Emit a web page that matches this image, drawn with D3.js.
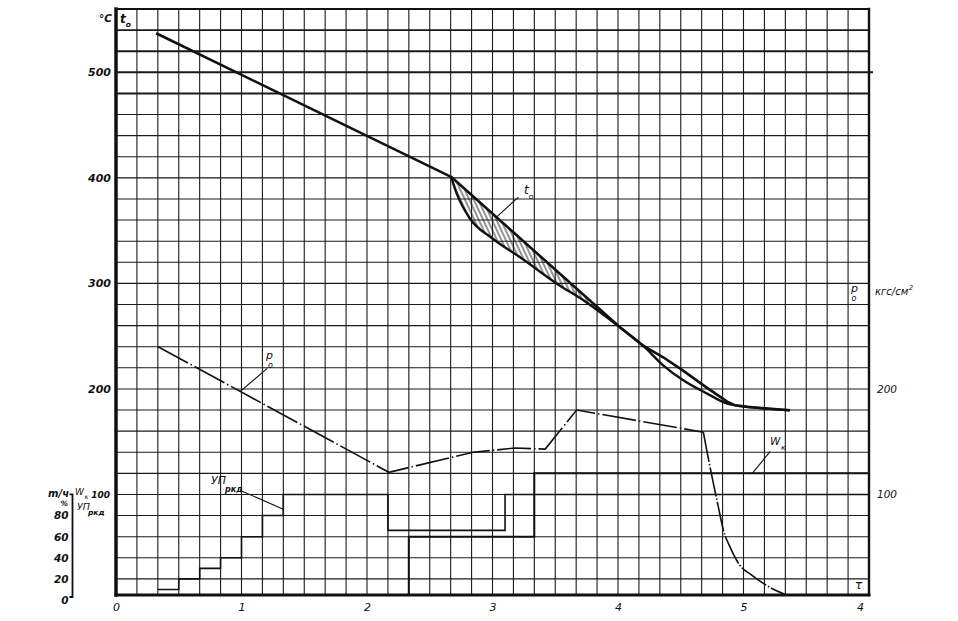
<!DOCTYPE html>
<html><head><meta charset="utf-8">
<script src="https://cdn.jsdelivr.net/npm/d3@7"></script>
<style>
html,body{margin:0;padding:0;background:#fff;}
svg{display:block;}
text{font-family:"DejaVu Sans","Liberation Sans",sans-serif;font-style:italic;fill:#111;}
</style></head><body>
<svg id="c" width="958" height="621"></svg>
<script>
// ---------- data ----------
const xTickValues = [0, 1, 2, 3, 4, 5, 6];
const xTickLabels = ["0", "1", "2", "3", "4", "5", "4"];
const tempTicks = [200, 300, 400, 500];
const pressureTicks = [100, 200];
const wkTicks = [100];
const flowTicks = [0, 20, 40, 60, 80];

// t_o, upper (straight) curve
const toUpperX = [0.32, 2.67, 4.02, 4.20, 4.36, 4.51, 4.71, 4.87, 4.93, 5.03, 5.37];
const toUpperY = [537, 401, 258, 241, 230, 218, 201, 188, 184.6, 183, 179.8];
// t_o, lower (bowed) curve
const toLowerX = [2.67, 2.715, 2.82, 3.00, 3.22, 3.51, 3.75, 4.02, 4.20, 4.36, 4.52, 4.71, 4.87, 4.93, 5.03, 5.37];
const toLowerY = [401, 385, 361.5, 342.5, 324.7, 300, 282, 258, 241, 222.4, 208.2, 195.6, 186.2, 184.6, 183, 179.8];
// p_o (kgs/cm2)
const poX = [0.335, 2.175, 2.845, 3.18, 3.42, 3.67, 4.68];
const poY = [240, 121, 140, 144, 143, 180, 159];
const poDropX = [4.68, 4.707, 4.76, 4.80, 4.84, 4.89, 4.97, 5.06, 5.155, 5.25, 5.35];
const poDropY = [159, 142, 110.5, 88, 66, 51, 33, 24, 16, 9.5, 4.5];
// УП ркд (%)
const upX = [0.333, 0.5, 0.667, 0.833, 1.0, 1.167, 1.333, 2.167, 3.1, 6.0];
const upY = [10, 20, 30, 40, 60, 80, 100, 66, 100, 100];
// W_k (t/h)
const wkX = [2.333, 2.333, 3.333, 6.0];
const wkY = [0, 60, 120, 120];

// ---------- drawing ----------
const svg = d3.select("#c");
const x = d3.scaleLinear().domain([0, 6]).range([116, 869]);
const y = d3.scaleLinear().domain([0, 560]).range([600, 9]);
const frameBottom = 595;
const ink = "#111";

const defs = svg.append("defs");
defs.append("clipPath").attr("id", "plot").append("rect")
  .attr("x", x(0)).attr("y", y(560)).attr("width", x(6) - x(0)).attr("height", frameBottom - y(560));
const pat = defs.append("pattern").attr("id", "hatch").attr("patternUnits", "userSpaceOnUse")
  .attr("width", 4).attr("height", 10).attr("patternTransform", "rotate(-25)");
pat.append("line").attr("x1", 1).attr("y1", 0).attr("x2", 1).attr("y2", 10)
  .attr("stroke", ink).attr("stroke-width", 0.9);

// grid
const grid = svg.append("g");
const vGrid = d3.range(1, 36).map(k => k / 6);
grid.selectAll("line.v").data(vGrid).join("line")
  .attr("x1", d => x(d)).attr("x2", d => x(d))
  .attr("y1", y(560)).attr("y2", frameBottom)
  .attr("stroke", "#1a1a1a").attr("stroke-width", 1.1);
const hGrid = d3.range(20, 560, 20);
const bold = new Set([480, 500, 520, 540]);
grid.selectAll("line.h").data(hGrid).join("line")
  .attr("x1", x(0)).attr("x2", d => d === 500 ? x(6) + 4 : x(6))
  .attr("y1", d => y(d)).attr("y2", d => y(d))
  .attr("stroke", "#1a1a1a").attr("stroke-width", d => bold.has(d) ? 1.9 : 1.1);

// frame
const fr = svg.append("g").attr("stroke", ink).attr("stroke-linecap", "square");
fr.append("line").attr("x1", x(0)).attr("x2", x(0)).attr("y1", y(560)).attr("y2", frameBottom).attr("stroke-width", 3.5);
fr.append("line").attr("x1", x(0)).attr("x2", x(6)).attr("y1", frameBottom).attr("y2", frameBottom).attr("stroke-width", 3);
fr.append("line").attr("x1", x(6)).attr("x2", x(6)).attr("y1", y(560)).attr("y2", frameBottom).attr("stroke-width", 2.4);
fr.append("line").attr("x1", x(0)).attr("x2", x(6)).attr("y1", y(560)).attr("y2", y(560)).attr("stroke-width", 2);

// data layer
const data = svg.append("g").attr("clip-path", "url(#plot)");
const zip = (xs, ys) => xs.map((v, i) => [v, ys[i]]);
const interp = (xs, ys, v) => {
  for (let i = 0; i < xs.length - 1; i++) {
    if (v >= xs[i] && v <= xs[i + 1]) {
      const t = (v - xs[i]) / (xs[i + 1] - xs[i]);
      return ys[i] + t * (ys[i + 1] - ys[i]);
    }
  }
  return ys[ys.length - 1];
};

// hatch between t_o curves
const hatchPts = toLowerX.map((v, i) => ({ x: v, lo: toLowerY[i], hi: interp(toUpperX, toUpperY, v) }))
  .filter(d => d.x <= 4.02 + 1e-9);
data.append("path").datum(hatchPts)
  .attr("d", d3.area().x(d => x(d.x)).y0(d => y(d.lo)).y1(d => y(d.hi)).curve(d3.curveMonotoneX))
  .attr("fill", "url(#hatch)");

const lineLin = d3.line().x(d => x(d[0])).y(d => y(d[1]));
const lineMono = d3.line().x(d => x(d[0])).y(d => y(d[1])).curve(d3.curveMonotoneX);
const lineStep = d3.line().x(d => x(d[0])).y(d => y(d[1])).curve(d3.curveStepAfter);

data.append("path").datum(zip(toUpperX, toUpperY)).attr("d", lineLin)
  .attr("fill", "none").attr("stroke", ink).attr("stroke-width", 2.6).attr("stroke-linejoin", "round");
data.append("path").datum(zip(toLowerX, toLowerY)).attr("d", lineMono)
  .attr("fill", "none").attr("stroke", ink).attr("stroke-width", 2.4).attr("stroke-linejoin", "round");

data.append("path").datum(zip(poX, poY)).attr("d", lineLin)
  .attr("fill", "none").attr("stroke", ink).attr("stroke-width", 1.6)
  .attr("stroke-dasharray", "34,3,1.5,3");
data.append("path").datum(zip(poDropX, poDropY)).attr("d", lineMono)
  .attr("fill", "none").attr("stroke", ink).attr("stroke-width", 1.6)
  .attr("stroke-dasharray", "30,2,1.5,2");

data.append("path").datum(zip(upX, upY)).attr("d", lineStep)
  .attr("fill", "none").attr("stroke", ink).attr("stroke-width", 1.6);
data.append("path").datum(zip(wkX, wkY)).attr("d", lineStep)
  .attr("fill", "none").attr("stroke", ink).attr("stroke-width", 2);

// axes
function styleAxis(g, size, weight) {
  g.select(".domain").remove();
  g.selectAll("text").style("font-size", size + "px").style("font-weight", weight)
    .style("font-style", "italic").attr("fill", ink);
}
svg.append("g").attr("transform", `translate(${x(0)},0)`)
  .call(d3.axisLeft(y).tickValues(tempTicks).tickSize(0).tickPadding(5).tickFormat(d3.format("d")))
  .call(g => styleAxis(g, 11, "bold"));
svg.append("g").attr("transform", `translate(${x(0)},0)`)
  .call(d3.axisLeft(y).tickValues(wkTicks).tickSize(0).tickPadding(6).tickFormat(d3.format("d")))
  .call(g => styleAxis(g, 9, "bold"));
svg.append("g").attr("transform", `translate(${x(6)},0)`)
  .call(d3.axisRight(y).tickValues(pressureTicks).tickSize(0).tickPadding(8).tickFormat(d3.format("d")))
  .call(g => styleAxis(g, 10.5, "normal"));
svg.append("g").attr("transform", `translate(0,${frameBottom})`)
  .call(d3.axisBottom(x).tickValues(xTickValues).tickSize(0).tickPadding(8)
    .tickFormat((d, i) => xTickLabels[i]))
  .call(g => styleAxis(g, 11, "normal"))
  .call(g => g.selectAll(".tick").filter(d => d === 6).select("text").attr("dx", -9));
// flow scale (t/h) with bracket
const flowAxisX = 72.5;
svg.append("g").attr("transform", `translate(${flowAxisX},0)`)
  .call(d3.axisLeft(y).tickValues(flowTicks).tickSize(0).tickPadding(4).tickFormat(d3.format("d")))
  .call(g => styleAxis(g, 10.5, "bold"));
svg.append("path")
  .attr("d", `M${flowAxisX - 3},${y(100)}H${flowAxisX}V597H${flowAxisX - 3}`)
  .attr("fill", "none").attr("stroke", ink).attr("stroke-width", 1.8);

// texts
const T = (tx, ty, s, size, weight, anchor) => svg.append("text")
  .attr("x", tx).attr("y", ty).text(s)
  .style("font-size", size + "px").style("font-weight", weight || "normal")
  .attr("text-anchor", anchor || "start");
// label with subscript as one text element
const S = (tx, ty, main, sub, size, subSize, dx, dy, weight, subWeight) => {
  const t = svg.append("text").attr("x", tx).attr("y", ty)
    .style("font-size", size + "px").style("font-weight", weight || "normal");
  t.append("tspan").text(main);
  t.append("tspan").attr("dx", dx).attr("dy", dy).text(sub)
    .style("font-size", subSize + "px").style("font-weight", subWeight || weight || "normal");
  return t;
};

T(112, 22, "°C", 10.5, "bold", "end");
S(120, 23, "t", "o", 12, 7.5, 0, 4, "bold");

// left lower labels
T(69, 497, "m/ч", 10, "bold", "end");
T(68, 506, "%", 7.5, "bold", "end");
S(75, 494.5, "W", "к", 9, 6.5, 0.5, 4.5);
S(77, 510, "УП", "ркд", 9.5, 7.5, -2, 5, "normal", "bold");

// right labels
S(851, 292, "p", "o", 11, 8, -6.5, 8.5);
S(875, 295, "кгс/см", "2", 10, 7, 0.5, -5);
T(855, 589, "τ", 12, "normal");

// curve labels with leaders
const leader = (x1, y1, x2, y2) => svg.append("line").attr("x1", x1).attr("y1", y1).attr("x2", x2).attr("y2", y2)
  .attr("stroke", ink).attr("stroke-width", 1.1);

// p_o
const pa = 0.99;
leader(x(pa), y(interp(poX, poY, pa)), x(pa) + 27, y(interp(poX, poY, pa)) - 23);
S(266, 359, "p", "o", 11, 8, -5, 9);
// УП ркд
leader(x(1.0) - 1, y(100) - 4, x(1.333), y(86));
S(211, 484, "УП", "ркд", 11, 8, -1, 7.5, "normal", "bold");
// t_o
const ta = 3.0;
leader(x(ta) + 4, y(interp(toUpperX, toUpperY, ta + 0.03)), x(ta) + 26, y(interp(toUpperX, toUpperY, ta + 0.03)) - 20);
S(524, 194, "t", "o", 12, 7.5, 0, 4.5);
// W_k
leader(x(5.07), y(120), x(5.07) + 18, y(120) - 22);
S(770, 445, "W", "к", 10.5, 7.5, 0.5, 5);
</script>
</body></html>
